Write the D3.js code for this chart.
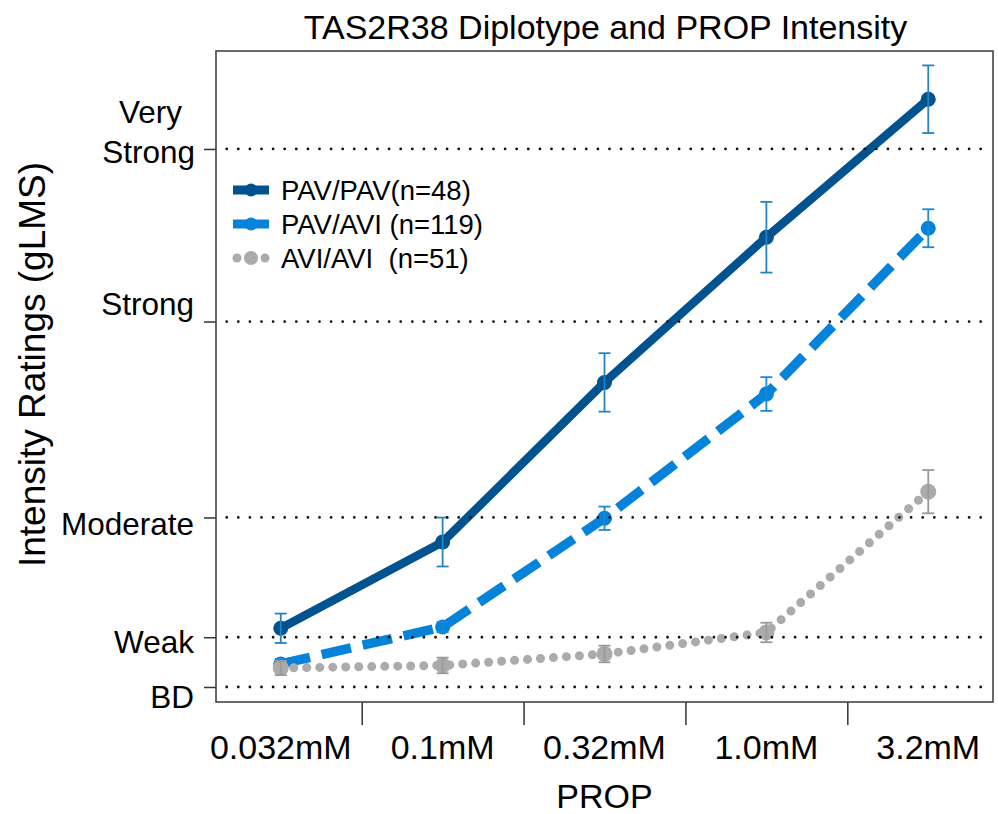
<!DOCTYPE html>
<html>
<head>
<meta charset="utf-8">
<script src="https://cdn.jsdelivr.net/npm/d3@7"></script>
<style>
  html, body { margin: 0; padding: 0; background: #fff; }
  text { font-family: "Liberation Sans", Arial, Helvetica, sans-serif; fill: #000; }
</style>
</head>
<body>
<svg id="chart" width="998" height="814"></svg>
<script>
// ---------- data ----------
const categories = ["0.032mM", "0.1mM", "0.32mM", "1.0mM", "3.2mM"];
const seriesNames = ["PAV/PAV(n=48)", "PAV/AVI (n=119)", "AVI/AVI  (n=51)"];
const pavpav = [5.78, 14.28, 30.0, 44.3, 57.9];
const pavpavErr = [1.45, 2.41, 2.88, 3.48, 3.33];
const pavavi = [2.27, 5.91, 16.62, 28.86, 45.19];
const pavaviErr = [0.5, 0.5, 1.15, 1.66, 1.87];
const aviavi = [1.87, 2.12, 3.25, 5.37, 19.24];
const aviaviErr = [0.70, 0.77, 0.82, 0.96, 2.13];
const yTickValues = [0, 4.9, 16.7, 36, 53];
const yTickLabels = ["BD", "Weak", "Moderate", "Strong", "Very\nStrong"];
const title = "TAS2R38 Diplotype and PROP Intensity";
const xTitle = "PROP";
const yTitle = "Intensity Ratings (gLMS)";

// ---------- layout ----------
const svg = d3.select("#chart");
const L = 216, R = 993, T = 51, B = 702;
const x = d3.scaleLinear().domain([0.6, 5.4]).range([L, R]);
const y = d3.scaleLinear().domain([-1.48, 62.65]).range([B, T]);
const labelDy = [21, 16, 18, -7, 14]; // baseline offsets of y labels relative to tick

const colors = ["#00538f", "#0582d9", "#ababab"];
const errColors = ["#2383c3", "#1b8ad6", "#9a9a9a"];

// title
svg.append("text").attr("x", (L + R) / 2 + 1).attr("y", 39)
  .attr("text-anchor", "middle").style("font-size", "34px").text(title);

// axes
const yAxis = d3.axisLeft(y).tickValues(yTickValues).tickSize(12).tickFormat("");
const gy = svg.append("g").attr("transform", `translate(${L},0)`).call(yAxis);
gy.select(".domain").remove();
gy.selectAll(".tick line").attr("stroke", "#333").attr("stroke-width", 1.5);

const xAxis = d3.axisBottom(x).tickValues([1.5, 2.5, 3.5, 4.5]).tickSize(23).tickFormat("");
const gx = svg.append("g").attr("transform", `translate(0,${B})`).call(xAxis);
gx.select(".domain").remove();
gx.selectAll(".tick line").attr("stroke", "#333").attr("stroke-width", 1.5);

// x category labels
svg.append("g").selectAll("text").data(categories).join("text")
  .attr("x", (d, i) => x(i + 1)).attr("y", 759)
  .attr("text-anchor", "middle").style("font-size", "34px").text(d => d);

// y tick labels
const yl = svg.append("g");
yTickLabels.forEach((lab, i) => {
  const ty = y(yTickValues[i]);
  const lines = lab.split("\n");
  if (lines.length === 1) {
    yl.append("text").attr("x", 194).attr("y", ty + labelDy[i])
      .attr("text-anchor", "end").style("font-size", "31.5px").text(lab);
  } else {
    const t2 = yl.append("text").attr("x", 195).attr("y", ty + labelDy[i])
      .attr("text-anchor", "end").style("font-size", "31.5px").text(lines[1]);
    const w = t2.node().getComputedTextLength();
    yl.append("text").attr("x", 195 - w / 2 + 2).attr("y", ty + labelDy[i] - 40)
      .attr("text-anchor", "middle").style("font-size", "31.5px").text(lines[0]);
  }
});

// axis titles
svg.append("text").attr("x", (L + R) / 2).attr("y", 808)
  .attr("text-anchor", "middle").style("font-size", "34px").text(xTitle);
svg.append("text").attr("transform", `translate(45,${(T + B) / 2 - 12}) rotate(-90)`)
  .attr("text-anchor", "middle").style("font-size", "37px").text(yTitle);

// ---------- series ----------
const seriesData = [
  { vals: pavpav, err: pavpavErr, dash: null, width: 8.5, r: 7.5 },
  { vals: pavavi, err: pavaviErr, dash: "30,12", width: 9.5, r: 7.5 },
  { vals: aviavi, err: aviaviErr, dash: "0,13", width: 9, r: 8 }
];
const line = d3.line().x((d, i) => x(i + 1)).y(d => y(d));

seriesData.forEach((s, k) => {
  const g = svg.append("g");
  const p = g.append("path").datum(s.vals).attr("d", line)
    .attr("fill", "none").attr("stroke", colors[k]).attr("stroke-width", s.width);
  if (k === 1) p.attr("stroke-dasharray", s.dash).attr("stroke-linecap", "butt");
  if (k === 2) p.attr("stroke-dasharray", s.dash).attr("stroke-linecap", "round");
  g.selectAll("circle").data(s.vals).join("circle")
    .attr("cx", (d, i) => x(i + 1)).attr("cy", d => y(d)).attr("r", s.r)
    .attr("fill", colors[k]);
  const eb = g.append("g").selectAll("g").data(s.vals).join("g");
  eb.append("line")
    .attr("x1", (d, i) => x(i + 1)).attr("x2", (d, i) => x(i + 1))
    .attr("y1", (d, i) => y(d - s.err[i])).attr("y2", (d, i) => y(d + s.err[i]))
    .attr("stroke", errColors[k]).attr("stroke-width", 1.8);
  [1, -1].forEach(sg => {
    eb.append("line")
      .attr("x1", (d, i) => x(i + 1) - 6).attr("x2", (d, i) => x(i + 1) + 6)
      .attr("y1", (d, i) => y(d + sg * s.err[i])).attr("y2", (d, i) => y(d + sg * s.err[i]))
      .attr("stroke", errColors[k]).attr("stroke-width", 1.8);
  });
});

// dotted reference lines on top
svg.append("g").selectAll("line").data(yTickValues).join("line")
  .attr("x1", L + 10.7).attr("x2", R - 2)
  .attr("y1", d => y(d)).attr("y2", d => y(d))
  .attr("stroke", "#111").attr("stroke-width", 2.8)
  .attr("stroke-linecap", "round").attr("stroke-dasharray", "0,11.6");

// frame
svg.append("rect").attr("x", L).attr("y", T).attr("width", R - L).attr("height", B - T)
  .attr("fill", "none").attr("stroke", "#444").attr("stroke-width", 1.6);

// ---------- legend ----------
const lg = svg.append("g");
const legY = [190, 224, 258];
seriesNames.forEach((name, k) => {
  const cy = legY[k];
  if (k < 2) {
    lg.append("line").attr("x1", 233).attr("x2", 269).attr("y1", cy).attr("y2", cy)
      .attr("stroke", colors[k]).attr("stroke-width", 9);
    lg.append("circle").attr("cx", 251).attr("cy", cy).attr("r", 6.5).attr("fill", colors[k]);
  } else {
    [237, 265].forEach(cx => lg.append("circle").attr("cx", cx).attr("cy", cy).attr("r", 4.5).attr("fill", colors[k]));
    lg.append("circle").attr("cx", 251).attr("cy", cy).attr("r", 7).attr("fill", colors[k]);
  }
  lg.append("text").attr("x", 281).attr("y", cy + 10)
    .style("font-size", "27.5px").style("white-space", "pre").text(name);
});
</script>
</body>
</html>
